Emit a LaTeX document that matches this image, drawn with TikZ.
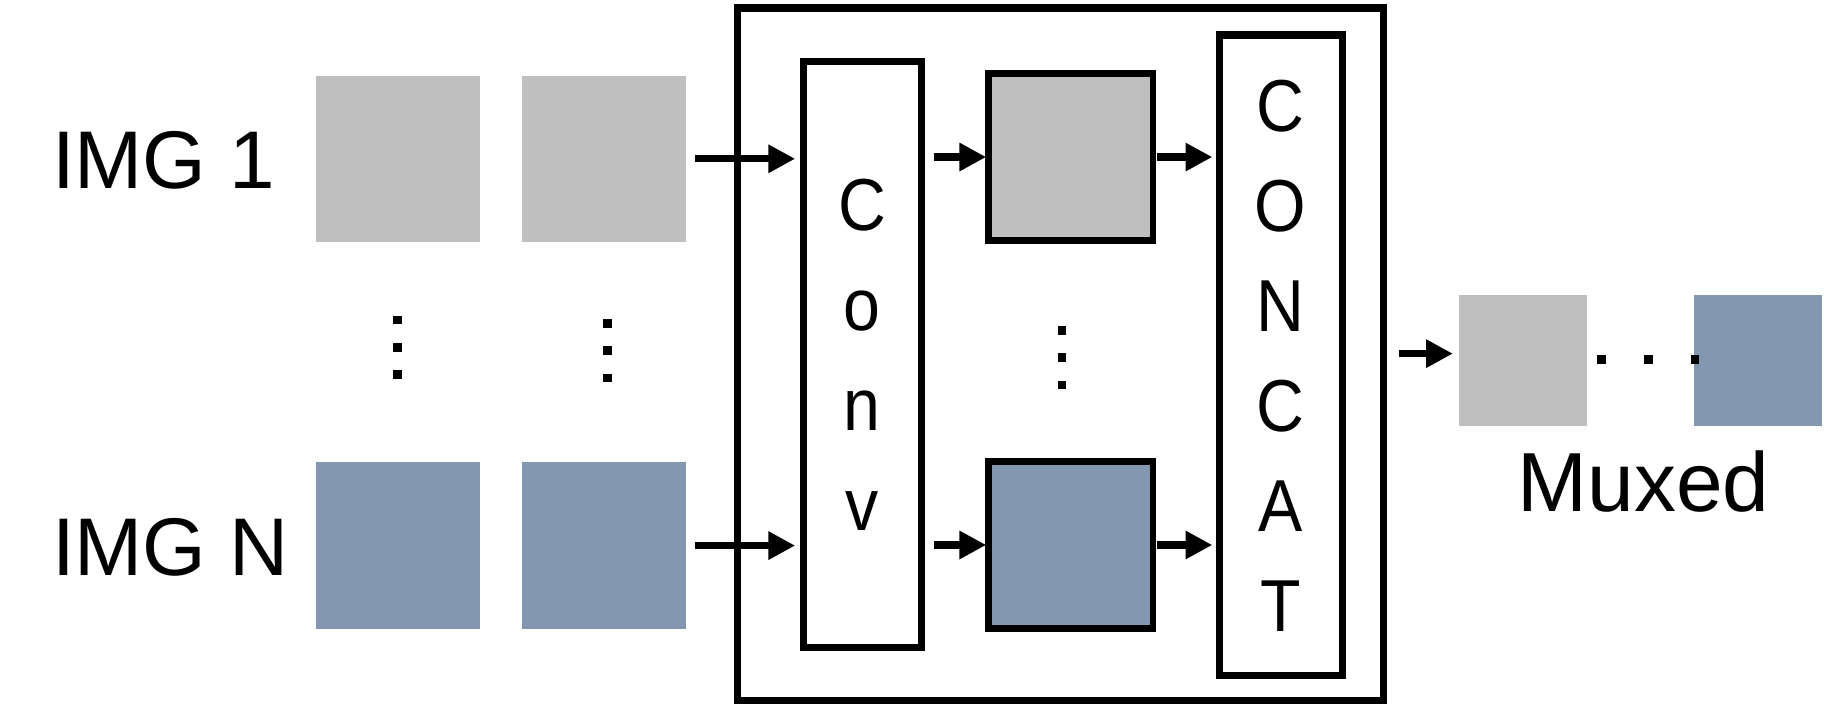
\documentclass[tikz,border=0pt]{standalone}
\usepackage{fontspec}
\setmainfont{Liberation Sans}
\newfontfamily\blockfont[FakeStretch=0.9]{Liberation Sans}
\usetikzlibrary{arrows.meta}
\definecolor{sqgray}{RGB}{191,191,191}
\definecolor{sqblue}{RGB}{132,151,176}
\begin{document}
\begin{tikzpicture}[x=0.01cm,y=-0.01cm,
  sq/.style={inner sep=0pt, outer sep=0pt, minimum width=1.41cm, minimum height=1.43cm},
  osq/.style={inner sep=0pt, outer sep=0pt, minimum width=1.10cm, minimum height=1.12cm},
  msq/.style={draw=black, line width=1.7pt, inner sep=0pt, outer sep=0pt, minimum width=1.413cm, minimum height=1.44cm},
  blockbox/.style={draw=black, line width=1.75pt, inner sep=0pt, outer sep=0pt, align=center,
    font=\blockfont\fontsize{18pt}{24.45pt}\selectfont},
  lbl/.style={inner sep=0pt, font=\fontsize{20pt}{24pt}\selectfont},
  arr/.style={line width=1.75pt, -{Triangle[length=0.23cm,width=0.23cm]}},
  dotsq/.style={fill=black}
]
\useasboundingbox (0,0) rectangle (1568,606);

% labels
\node[lbl, anchor=base west] (img1) at (44,162) {IMG 1};
\node[lbl, anchor=base west] (imgn) at (44,495) {IMG N};

% input squares
\node[sq, fill=sqgray] (s11) at (342,136.5) {};
\node[sq, fill=sqgray] (s12) at (519,136.5) {};
\node[sq, fill=sqblue] (sn1) at (342,469) {};
\node[sq, fill=sqblue] (sn2) at (519,469) {};

% outer box
\node[draw=black, line width=1.75pt, inner sep=0pt, minimum width=5.552cm, minimum height=5.949cm] (outer) at (911.8,304.45) {};

% conv box
\node[blockbox, minimum width=1.013cm, minimum height=5.038cm] (conv) at (741.25,304.6) {C\\o\\n\\v};

% middle squares
\node[msq, fill=sqgray] (m1) at (920.5,135) {};
\node[msq, fill=sqblue] (mn) at (920.5,468.5) {};

% concat box
\node[blockbox, minimum width=1.056cm, minimum height=5.506cm] (concat) at (1101,305.5) {C\\O\\N\\C\\A\\T};

% output squares
\node[osq, fill=sqgray] (o1) at (1309.6,310) {};
\node[osq, fill=sqblue] (o2) at (1511.5,310) {};
\node[lbl, font=\fontsize{20.5pt}{24pt}\selectfont, anchor=base] (muxed) at (1413,440) {Muxed};

% arrows
\draw[arr, shorten <=0.075cm, shorten >=0.07cm] (s12.east) -- (s12.east -| conv.west);
\draw[arr, shorten <=0.075cm, shorten >=0.07cm] (sn2.east) -- (sn2.east -| conv.west);
\draw[arr, shorten <=0.11cm, shorten >=0.02cm] (conv.east |- m1.west) -- (m1.west);
\draw[arr, shorten <=0.11cm, shorten >=0.02cm] (conv.east |- mn.west) -- (mn.west);
\draw[arr, shorten <=0.035cm, shorten >=0.06cm] (m1.east) -- (m1.east -| concat.west);
\draw[arr, shorten <=0.035cm, shorten >=0.06cm] (mn.east) -- (mn.east -| concat.west);
\coordinate (oa) at (1203,304);
\draw[arr, shorten >=0.056cm] (oa) -- (oa -| o1.west);

% dots
\foreach \dx/\dy in {342/275, 342/298.5, 342/322,
                     522/278, 522/301.5, 522/325,
                     913/284, 913/307.5, 913/331,
                     1377/309, 1417/309, 1457/309}
  \fill[dotsq] (\dx-3.75,\dy-3.75) rectangle (\dx+3.75,\dy+3.75);
\end{tikzpicture}
\end{document}
